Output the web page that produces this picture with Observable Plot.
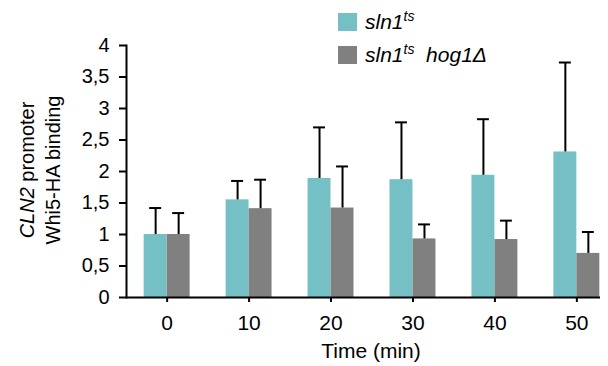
<!DOCTYPE html>
<html>
<head>
<meta charset="utf-8">
<script src="https://cdn.jsdelivr.net/npm/d3@7"></script>
<script src="https://cdn.jsdelivr.net/npm/@observablehq/plot@0.6"></script>
<style>
  body { margin: 0; background: #fff; font-family: Arial, "Liberation Sans", sans-serif; }
  #chart { position: relative; width: 608px; height: 366px; }
</style>
</head>
<body>
<div id="chart"></div>
<script>
const times = [0, 10, 20, 30, 40, 50];
const sln1Values = [1.00, 1.55, 1.89, 1.87, 1.94, 2.31];
const sln1ErrTop = [1.42, 1.85, 2.70, 2.78, 2.83, 3.73];
const hogValues = [1.00, 1.41, 1.42, 0.93, 0.92, 0.70];
const hogErrTop = [1.34, 1.87, 2.08, 1.16, 1.22, 1.04];
const yTicks = [0, 0.5, 1, 1.5, 2, 2.5, 3, 3.5, 4];
const seriesColors = ["#74c0c4", "#808080"];

const sln1 = times.map((t, i) => ({time: t, value: sln1Values[i], err: sln1ErrTop[i]}));
const hog = times.map((t, i) => ({time: t, value: hogValues[i], err: hogErrTop[i]}));

const W = 608, H = 366;
const half = 11.5;

const chart = Plot.plot({
  width: W,
  height: H,
  marginLeft: 126,
  marginRight: 8,
  marginTop: 45,
  marginBottom: 69,
  style: {fontFamily: "Arial, 'Liberation Sans', sans-serif", fontSize: "20px", color: "#000", background: "#fff"},
  x: {type: "band", domain: times, range: [126, 617], paddingInner: 0.72, paddingOuter: 0.356, round: false, label: null},
  y: {domain: [0, 4], label: null},
  marks: [
    Plot.barY(sln1, {x: "time", y: "value", fill: seriesColors[0], dx: -half}),
    Plot.barY(hog, {x: "time", y: "value", fill: seriesColors[1], dx: half}),
    Plot.ruleX(sln1, {x: "time", y1: "value", y2: "err", stroke: "#000", strokeWidth: 2, dx: -half}),
    Plot.ruleX(hog, {x: "time", y1: "value", y2: "err", stroke: "#000", strokeWidth: 2, dx: half}),
    Plot.tickY(sln1, {x: "time", y: "err", stroke: "#000", strokeWidth: 2, dx: -half, insetLeft: 5.5, insetRight: 5.5}),
    Plot.tickY(hog, {x: "time", y: "err", stroke: "#000", strokeWidth: 2, dx: half, insetLeft: 5.5, insetRight: 5.5}),
    Plot.axisY({ticks: yTicks, tickSize: 7, tickPadding: 10, strokeWidth: 2, fontSize: 20, tickFormat: d => String(d).replace(".", ","), label: null}),
    Plot.axisX({tickSize: 5, tickPadding: 13, strokeWidth: 2, fontSize: 21, label: null}),
    Plot.frame({anchor: "left", strokeWidth: 2}),
    Plot.ruleY([0], {strokeWidth: 2})
  ]
});

const svg = d3.select(chart);
// Y axis title (two lines, rotated)
const yl = svg.append("text")
  .attr("transform", "translate(34,170) rotate(-90)")
  .attr("text-anchor", "middle")
  .attr("font-size", 20)
  .attr("fill", "#000");
yl.append("tspan").attr("font-style", "italic").text("CLN2");
yl.append("tspan").text(" promoter");
svg.append("text")
  .attr("transform", "translate(60,170) rotate(-90)")
  .attr("text-anchor", "middle")
  .attr("font-size", 20)
  .attr("fill", "#000")
  .text("Whi5-HA binding");
// X axis title
svg.append("text")
  .attr("x", 371).attr("y", 358)
  .attr("text-anchor", "middle")
  .attr("font-size", 21)
  .attr("fill", "#000")
  .text("Time (min)");
// Legend
const legend = [
  {color: seriesColors[0], y: 13, parts: [["sln1", 0], ["ts", 1]]},
  {color: seriesColors[1], y: 46, parts: [["sln1", 0], ["ts", 1], ["  hog1Δ", 0]]}
];
legend.forEach(L => {
  svg.append("rect").attr("x", 338).attr("y", L.y).attr("width", 19).attr("height", 18).attr("fill", L.color);
  const t = svg.append("text").attr("x", 365).attr("y", L.y + 16).attr("font-size", 21)
    .attr("text-anchor", "start")
    .attr("font-style", "italic").attr("fill", "#000").attr("xml:space", "preserve").style("white-space", "pre");
  L.parts.forEach(([s, sup]) => {
    const sp = t.append("tspan").text(s);
    if (sup) sp.attr("font-size", 14).attr("dy", -8);
    else if (s !== "sln1") sp.attr("dy", 8);
  });
});

document.getElementById("chart").appendChild(chart);
</script>
</body>
</html>
